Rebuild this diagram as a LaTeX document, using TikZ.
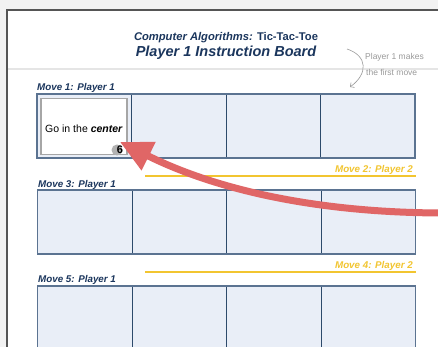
\documentclass[tikz,border=0pt]{standalone}
\usepackage{fontspec}
\setmainfont{Liberation Sans}
\usetikzlibrary{arrows.meta}
\definecolor{navy}{HTML}{1B365D}
\definecolor{cellfill}{HTML}{E9EEF7}
\definecolor{cellline}{HTML}{2D4A6B}
\definecolor{outerline}{HTML}{5B7391}
\definecolor{gold}{HTML}{F2C530}
\definecolor{arrowred}{HTML}{E06666}
\definecolor{bggray}{HTML}{F2F2F2}
\definecolor{pageline}{HTML}{555555}
\definecolor{notegray}{HTML}{9A9A9A}
\tikzset{
  cell/.style={draw=cellline, line width=0.8pt, fill=cellfill, minimum width=94.5pt, minimum height=64pt, inner sep=0pt, outer sep=0pt},
  rowframe/.style={draw=outerline, line width=1.4pt},
  movelabel/.style={font=\fontsize{9.8}{11}\selectfont\bfseries\itshape, text=navy, anchor=base west, inner sep=0pt},
  p2label/.style={font=\fontsize{9.8}{11}\selectfont\bfseries\itshape, text=gold, anchor=base east, inner sep=0pt},
  goldline/.style={draw=gold, line width=1.2pt},
  note/.style={font=\fontsize{8.5}{9}\selectfont, text=notegray, anchor=base west, inner sep=0pt},
}
\begin{document}
\begin{tikzpicture}[x=1pt,y=-1pt]
\useasboundingbox (0,0) rectangle (438,347);
\clip (0,0) rectangle (438,347);
\fill[bggray] (0,0) rectangle (438,347);
% page
\draw[pageline, line width=2pt, fill=white] (7,10) rectangle (460,370);
% separator line
\draw[black!10, line width=2.5pt] (8,69) -- (438,69);
% titles
\node[font=\fontsize{11.2}{12}\selectfont\bfseries, text=navy, inner sep=0pt] (t1) at (226,38) {\itshape Computer Algorithms:\upshape{} Tic-Tac-Toe};
\node[font=\fontsize{14.5}{16}\selectfont\bfseries\itshape, text=navy, inner sep=0pt] (t2) at (226,53) {Player 1 Instruction Board};
% annotation
\node[note] (n1) at (365,60) {Player 1 makes};
\node[note] (n2) at (366,76) {the first move};
\coordinate (nstart) at (347,49);
\coordinate (nend) at (350,87);
\draw[notegray, line width=0.6pt, -{Straight Barb[length=3pt]}] (nstart) .. controls (368,56) and (368,74) .. (nend);
% Row 1
\node[movelabel] (m1) at (37,91) {Move 1: Player 1};
\foreach \i/\x in {1/84.25,2/178.75,3/273.25,4/367.75}{
  \node[cell] (a\i) at (\x,126) {};
}
\draw[rowframe] (a1.north west) rectangle (a4.south east);
\node[draw=black!35, line width=1.8pt, fill=white, minimum width=86pt, minimum height=56pt, inner sep=0pt] (inner) at (84,126.5) {};
\node[font=\fontsize{10.5}{12}\selectfont, text=black, inner sep=0pt] (go) at (84,129) {Go in the \textbf{\itshape center}};
\node[circle, fill=black!30, minimum size=11pt, inner sep=0pt] (bdg) at (117,150) {};
\node[font=\fontsize{11}{12}\selectfont\bfseries, inner sep=0pt] (six) at (120,150) {6};
% Move 2
\node[p2label] (m2) at (413,172.5) {Move 2: Player 2};
\coordinate (g2a) at (145,176);
\coordinate (g2b) at (416,176);
\draw[goldline] (g2a) -- (g2b);
% Row 3
\node[movelabel] (m3) at (38,187.5) {Move 3: Player 1};
\foreach \i/\x in {1/84.75,2/179.25,3/273.75,4/368.25}{
  \node[cell] (b\i) at (\x,222) {};
}
\draw[rowframe] (b1.north west) rectangle (b4.south east);
% Move 4
\node[p2label] (m4) at (413,268.5) {Move 4: Player 2};
\coordinate (g4a) at (145,272);
\coordinate (g4b) at (416,272);
\draw[goldline] (g4a) -- (g4b);
% Row 5
\node[movelabel] (m5) at (38,282.5) {Move 5: Player 1};
\foreach \i/\x in {1/85,2/179.5,3/274,4/368.5}{
  \node[cell] (c\i) at (\x,318) {};
}
\draw[rowframe] (c1.north west) rectangle (c4.south east);
% red arrow
\coordinate (rstart) at (445,213);
\coordinate (rtip) at (120,142);
\draw[arrowred, line width=7pt, -{Triangle[length=32pt,width=30pt]}] (rstart) .. controls (330,213) and (225,194) .. (rtip);
\end{tikzpicture}
\end{document}
